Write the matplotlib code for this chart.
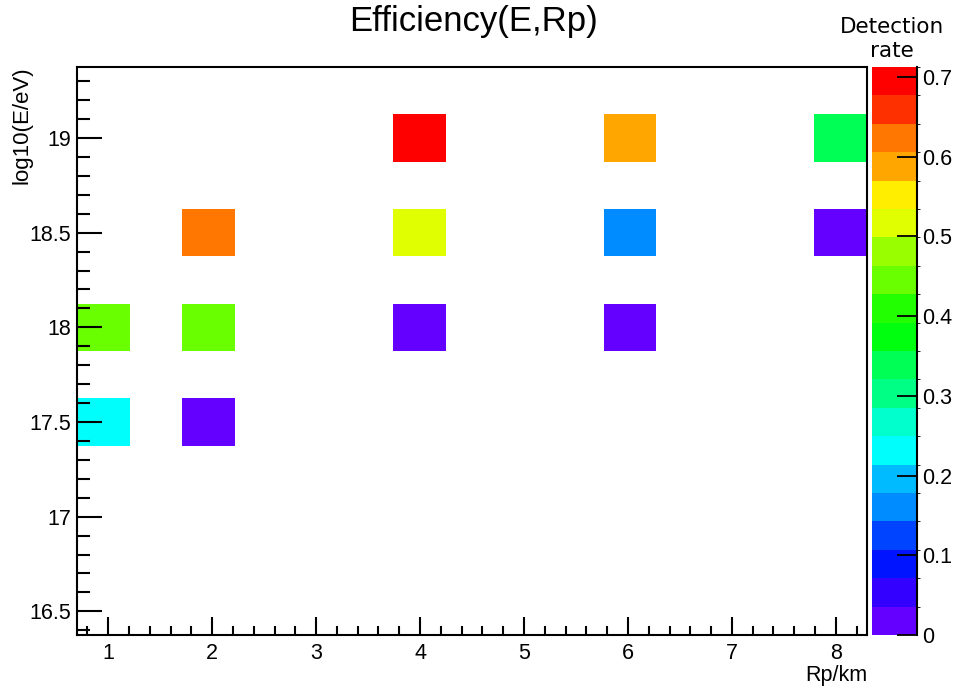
import colorsys
import numpy as np
import matplotlib
matplotlib.use("Agg")
import matplotlib.pyplot as plt
from matplotlib.colors import ListedColormap, BoundaryNorm
from matplotlib.ticker import MultipleLocator, FormatStrFormatter
from matplotlib.lines import Line2D

# filled cells: Rp (km), log10(E/eV), detection rate
rp = [4, 6, 8, 2, 4, 6, 8, 1, 2, 4, 6, 1, 2]
loge = [19, 19, 19, 18.5, 18.5, 18.5, 18.5, 18, 18, 18, 18, 17.5, 17.5]
rate = [0.71, 0.59, 0.34, 0.62, 0.52, 0.16, 0.02, 0.445, 0.445, 0.03, 0.03, 0.23, 0.02]

z_max = 0.7125
n_levels = 20
cbar_ticks = [0, 0.1, 0.2, 0.3, 0.4, 0.5, 0.6, 0.7]

# histogram binning (ROOT TH2)
xedges = np.linspace(0.7, 8.3, 16)
yedges = np.linspace(16.375, 19.375, 13)

# ROOT "pretty" palette: 50 hues violet -> red, 20 contours picked from it
pal = []
for i in range(50):
    hue = 280 - (i + 1) * (280 / 50)
    pal.append(colorsys.hls_to_rgb(hue / 360.0, 0.5, 1.0))
colors = [pal[int((j + 0.99) * 50 / n_levels)] for j in range(n_levels)]
cmap = ListedColormap(colors)
levels = np.linspace(0, z_max, n_levels + 1)
norm = BoundaryNorm(levels, n_levels)

H, _, _ = np.histogram2d(rp, loge, bins=[xedges, yedges], weights=rate)
H = np.ma.masked_where(H <= 0, H)

W, Hpx = 957, 689
fig = plt.figure(figsize=(W / 100, Hpx / 100), dpi=100)
ax = fig.add_axes([77 / W, 1 - 635 / Hpx, 790 / W, 568 / Hpx])
cax = fig.add_axes([872 / W, 1 - 635 / Hpx, 45 / W, 568 / Hpx])

font = "Liberation Sans"
fs = 15.5

mesh = ax.pcolormesh(xedges, yedges, H.T, cmap=cmap, norm=norm)
ax.set_xlim(0.7, 8.3)
ax.set_ylim(16.375, 19.375)

for s in ax.spines.values():
    s.set_linewidth(1.5)

ax.xaxis.set_major_locator(MultipleLocator(1))
ax.xaxis.set_minor_locator(MultipleLocator(0.2))
ax.yaxis.set_major_locator(MultipleLocator(0.5))
ax.yaxis.set_minor_locator(MultipleLocator(0.1))
ax.yaxis.set_major_formatter(FormatStrFormatter('%g'))
ax.tick_params(axis='both', which='both', direction='in', top=False, right=False, width=1.5)
ax.tick_params(axis='x', which='major', length=12.7, pad=6)
ax.tick_params(axis='x', which='minor', length=6.7)
ax.tick_params(axis='y', which='major', length=18, pad=4)
ax.tick_params(axis='y', which='minor', length=9.4)
for lab in ax.get_xticklabels() + ax.get_yticklabels():
    lab.set_fontfamily(font)
    lab.set_fontsize(fs)

fig.text(473 / W, 1 - 22 / Hpx, 'Efficiency(E,Rp)', ha='center', va='center',
         fontsize=25, family=font)
fig.text(867 / W, 1 - 675 / Hpx, 'Rp/km', ha='right', va='center', fontsize=fs, family=font)
fig.text(22 / W, 1 - 66 / Hpx, 'log10(E/eV)', ha='center', va='top', rotation=90,
         fontsize=16, family=font)

cbar = fig.colorbar(mesh, cax=cax, ticks=cbar_ticks)
cbar.outline.set_visible(False)
cbar.set_ticks(cbar_ticks, labels=['%g' % t for t in cbar_ticks])
cax.tick_params(direction='in', length=14.4, width=1.3, pad=4)
for lab in cax.get_yticklabels():
    lab.set_fontfamily(font)
    lab.set_fontsize(fs)
cax.add_line(Line2D([1, 1], [0, 1], transform=cax.transAxes, color='black', lw=1.5, clip_on=False))

fig.text(892 / W, 1 - 39 / Hpx, 'Detection\nrate', ha='center', va='center',
         fontsize=15.5, family='DejaVu Sans', linespacing=1.2)

fig.savefig('out.png', dpi=100)
